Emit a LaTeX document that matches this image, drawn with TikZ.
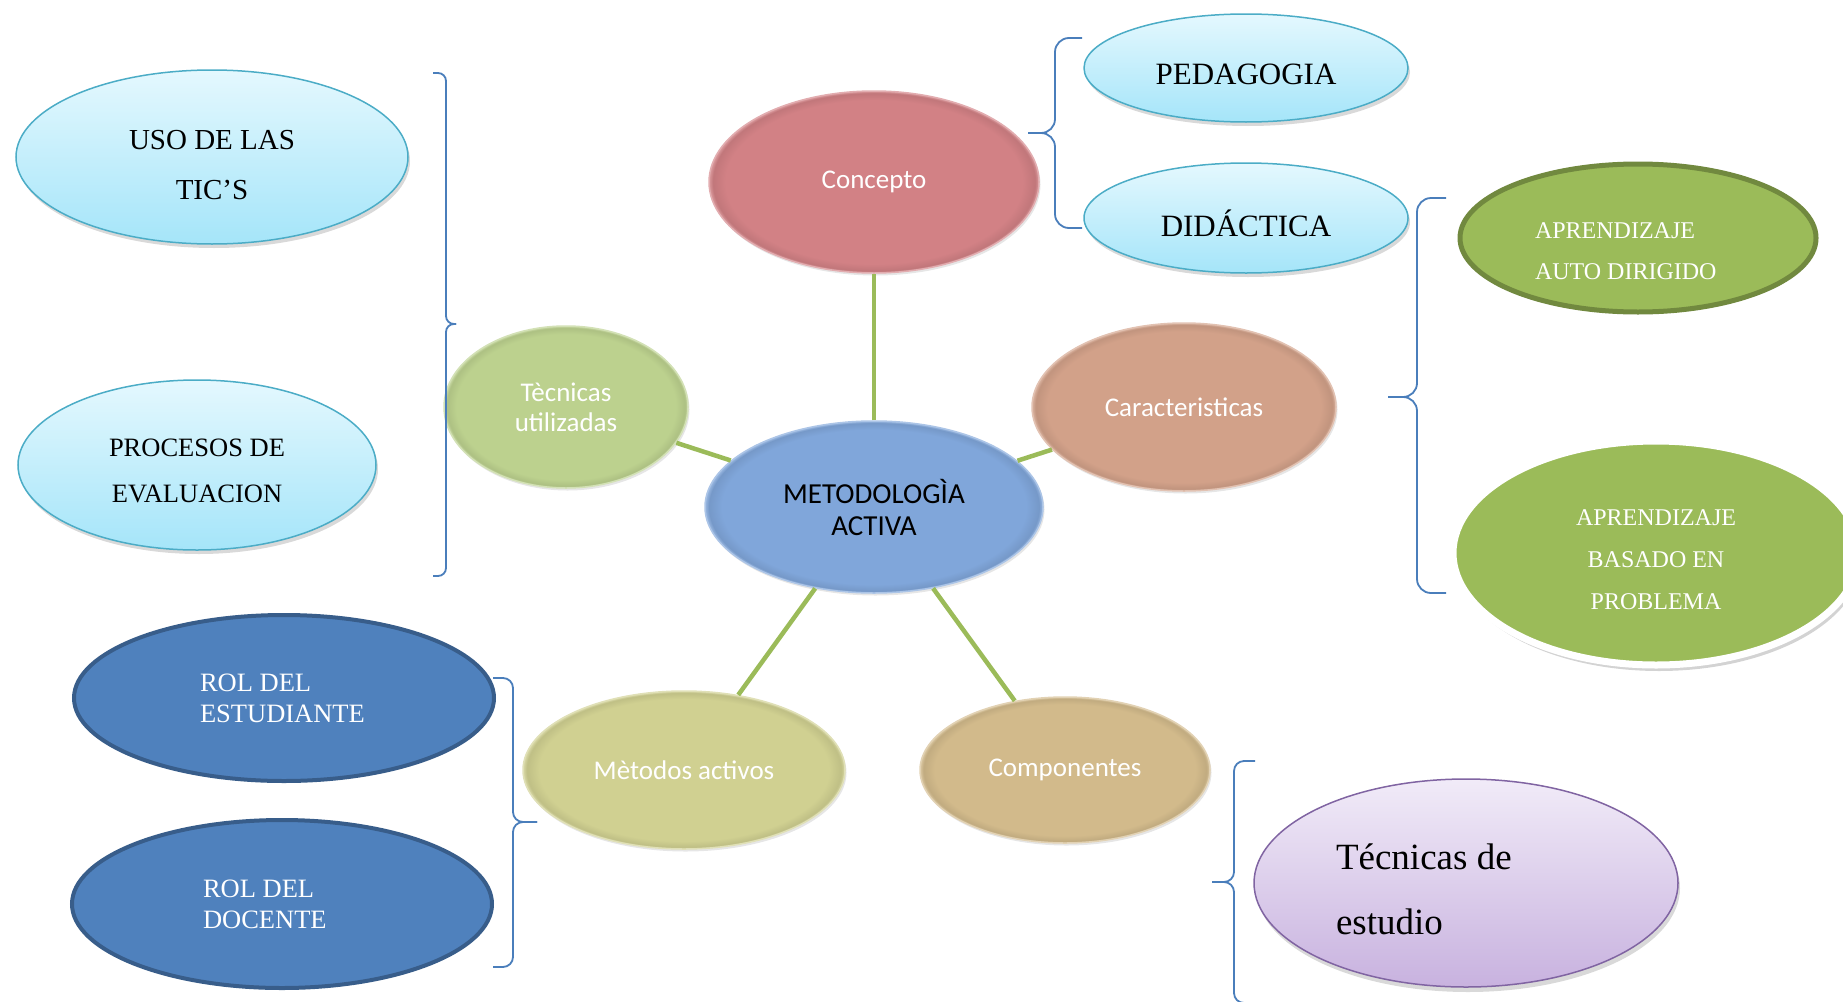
\documentclass[tikz,border=0pt]{standalone}
\usepackage{fontspec}
\setmainfont{Liberation Serif}
\newfontfamily\calibri{Carlito}
\usetikzlibrary{positioning,shapes.geometric,shadows}

\definecolor{skytop}{HTML}{E4F8FE}
\definecolor{skybot}{HTML}{A5E5F9}
\definecolor{skyline}{HTML}{4BACC6}
\definecolor{rose}{HTML}{D28185}
\definecolor{steel}{HTML}{80A6DA}
\definecolor{sage}{HTML}{BCD18E}
\definecolor{salmon}{HTML}{D2A189}
\definecolor{khaki}{HTML}{D0D091}
\definecolor{sand}{HTML}{D2BA8B}
\definecolor{olive}{HTML}{9BBB59}
\definecolor{olivedark}{HTML}{71893F}
\definecolor{navy}{HTML}{4F81BD}
\definecolor{navydark}{HTML}{385D8A}
\definecolor{lilactop}{HTML}{F1EBF8}
\definecolor{lilacbot}{HTML}{C8B2DF}
\definecolor{lilacline}{HTML}{8064A2}
\definecolor{bracecol}{HTML}{4A7EBB}
\colorlet{rimbase}{steel}

\pgfdeclareradialshading[rimbase]{rim}{\pgfpointorigin}{%
  color(0bp)=(rimbase); color(22.5bp)=(rimbase); color(24.4bp)=(rimbase!92!black);
  color(25bp)=(rimbase!80!white); color(50bp)=(rimbase!80!white)}

\newcommand{\pad}[1]{\rule{0pt}{#1}}

\tikzset{
  bubble/.style={ellipse,inner sep=0pt,align=center},
  soft/.style={bubble,/utils/exec={\colorlet{rimbase}{#1}},shading=rim,
    draw=#1!65!white,line width=1.5pt,text=white,
    font=\calibri\fontsize{27}{30}\selectfont,
    drop shadow={opacity=.2,shadow xshift=1.5pt,shadow yshift=-2.5pt}},
  sky/.style={bubble,top color=skytop,bottom color=skybot,draw=skyline,line width=1.5pt,
    drop shadow={opacity=.3,shadow xshift=2pt,shadow yshift=-4pt}},
  leaf/.style={bubble,fill=olive,text=white},
  role/.style={bubble,fill=navy,draw=navydark,line width=4pt,text=white,align=flush left,
    font=\fontsize{26.5}{31}\selectfont},
  link/.style={draw=olive,line width=4.5pt},
  curly/.style={draw=bracecol,line width=1.8pt,rounded corners=#1},
  curly/.default=10pt
}

\begin{document}
\begin{tikzpicture}[x=1pt,y=-1pt,on grid]
  \useasboundingbox (0,0) rectangle (1843,1001);
  \path
  node[soft=steel,text=black,minimum width=338pt,minimum height=172pt,
    font=\calibri\fontsize{29}{32}\selectfont] (meto) at (874,507) {METODOLOGÌA\\ACTIVA}
  node[soft=rose,above=325pt of meto,minimum width=330pt,minimum height=182pt] (concepto) {Concepto}
  node[soft=sage,above left=100pt and 308pt of meto,minimum width=244pt,minimum height=162pt] (tecnicas) {Tècnicas\\utilizadas}
  node[soft=salmon,above right=100pt and 310pt of meto,minimum width=304pt,minimum height=168pt] (caract) {Caracteristicas}
  node[soft=khaki,below left=263pt and 190pt of meto,minimum width=322pt,minimum height=158pt] (metodos) {Mètodos activos}
  node[soft=sand,below right=263pt and 191pt of meto,minimum width=290pt,minimum height=146pt] (compon) {Componentes}

  node[sky,above right=114pt and 372pt of concepto,minimum width=324pt,minimum height=108pt,
    font=\fontsize{31}{36}\selectfont] (pedagogia) {\pad{33pt}PEDAGOGIA}
  node[sky,below=150pt of pedagogia,minimum width=324pt,minimum height=110pt,
    font=\fontsize{31}{36}\selectfont] (didactica) {\pad{37pt}DIDÁCTICA}

  node[sky,above left=250pt and 354pt of tecnicas,minimum width=392pt,minimum height=174pt,
    font=\fontsize{29}{50}\selectfont] (uso) {\pad{35pt}USO DE LAS\\TIC’S}
  node[sky,below left=58pt and 369pt of tecnicas,minimum width=358pt,minimum height=170pt,
    font=\fontsize{26.5}{46}\selectfont] (procesos) {\pad{30pt}PROCESOS DE\\EVALUACION}

  node[leaf,draw=olivedark,line width=5pt,above right=169pt and 454pt of caract,
    minimum width=356pt,minimum height=148pt,text width=206pt,align=flush left,
    font=\fontsize{24}{41}\selectfont] (auto) {\pad{42pt}APRENDIZAJE\\AUTO DIRIGIDO}
  node[leaf,draw=white,line width=7pt,below right=146pt and 472pt of caract,
    minimum width=406pt,minimum height=224pt,font=\fontsize{24}{42}\selectfont,
    drop shadow={opacity=.35,shadow xshift=3pt,shadow yshift=-6pt}] (basado) {\pad{30pt}APRENDIZAJE\\BASADO EN\\PROBLEMA}

  node[role,above left=72pt and 400pt of metodos,minimum width=420pt,minimum height=166pt,
    text width=168pt] (rolest) {ROL DEL\\ESTUDIANTE}
  node[role,below left=134pt and 402pt of metodos,minimum width=420pt,minimum height=168pt,
    text width=158pt] (roldoc) {ROL DEL\\DOCENTE}

  node[bubble,top color=lilactop,bottom color=lilacbot,draw=lilacline,line width=1.5pt,
    drop shadow={opacity=.3,shadow xshift=2pt,shadow yshift=-5pt},
    below right=113pt and 401pt of compon,minimum width=424pt,minimum height=208pt,
    text width=260pt,align=flush left,font=\fontsize{37}{65}\selectfont] (tecest) {\pad{38pt}Técnicas de\\estudio}
  ;
  \path[link]
  (meto) edge (concepto)
  (meto) edge (tecnicas)
  (meto) edge (caract)
  (meto) edge (metodos)
  (meto) edge (compon)
  ;
  \draw[curly=8pt] (433,73) -- (446,73) -- (446,324) -- (456,324);
  \draw[curly=8pt] (456,324) -- (446,324) -- (446,576) -- (433,576);
  \draw[curly=14pt] (1082,38) -- (1055,38) -- (1055,133) -- (1028,133);
  \draw[curly=14pt] (1028,133) -- (1055,133) -- (1055,228) -- (1082,228);
  \draw[curly=14pt] (1446,198) -- (1417,198) -- (1417,397) -- (1388,397);
  \draw[curly=14pt] (1388,397) -- (1417,397) -- (1417,593) -- (1446,593);
  \draw[curly] (493,678) -- (513,678) -- (513,822) -- (537,822);
  \draw[curly] (537,822) -- (513,822) -- (513,967) -- (493,967);
  \draw[curly] (1255,761) -- (1234,761) -- (1234,882) -- (1212,882);
  \draw[curly] (1212,882) -- (1234,882) -- (1234,1003) -- (1255,1003);
\end{tikzpicture}
\end{document}
